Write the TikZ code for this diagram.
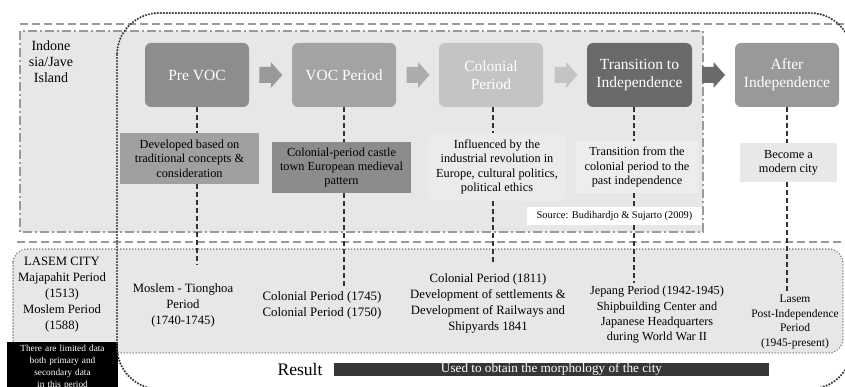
\documentclass[tikz,border=0pt]{standalone}
\usepackage{fontspec}
\setmainfont{Liberation Serif}
\definecolor{bgA}{HTML}{E7E7E7}
\definecolor{frame}{HTML}{9A9A9A}
\definecolor{dotc}{HTML}{7A7A7A}
\definecolor{bigdot}{HTML}{3A3A3A}
\definecolor{sA}{HTML}{8D8D8D}
\definecolor{sB}{HTML}{A3A3A3}
\definecolor{sC}{HTML}{C4C4C4}
\definecolor{sD}{HTML}{6A6A6A}
\definecolor{sE}{HTML}{999999}
\definecolor{dA}{HTML}{A0A0A0}
\definecolor{dB}{HTML}{8C8C8C}
\definecolor{dC}{HTML}{EBEBEB}
\definecolor{dD}{HTML}{EDEDED}
\definecolor{dE}{HTML}{E8E8E8}
\definecolor{barc}{HTML}{363636}
\newcommand{\blockarrowat}[2]{%
  \fill[#2, shift={(#1,75)}] (0,-8) -- (11.5,-8) -- (11.5,-13) -- (23,0) -- (11.5,13) -- (11.5,8) -- (0,8) -- cycle;}
\begin{document}
\begin{tikzpicture}[x=1pt,y=-1pt,
  stage/.style={rounded corners=6pt, minimum width=104pt, minimum height=64pt, text=white,
    align=center, font=\fontsize{15.5}{18}\selectfont, inner sep=0pt},
  desc/.style={align=center, font=\fontsize{12.3}{14.3}\selectfont, inner sep=0pt},
  low/.style={align=center, font=\fontsize{12.7}{15.8}\selectfont, inner sep=0pt},
  conn/.style={draw=black!80, line width=2.3pt, dash pattern=on 5pt off 3pt},
]
\useasboundingbox (0,0) rectangle (845,387);
\clip (0,0) rectangle (845,387);

% frames
\draw[draw=frame, fill=bgA, line width=1.8pt, dash pattern=on 9pt off 3pt on 2pt off 3pt] (20,31) rectangle (703,232);
\draw[frame, line width=1.8pt, dash pattern=on 8pt off 4pt] (20,24) -- (850,24);
\draw[frame, line width=1.8pt, dash pattern=on 8pt off 4pt] (17,242) -- (850,242);
\draw[draw=dotc, fill=bgA, line width=1.6pt, dash pattern=on 0pt off 3pt, line cap=round, rounded corners=14pt] (13,249) rectangle (843,353);

% left label
\node[align=center, font=\fontsize{14}{16}\selectfont, inner sep=0pt] (ind) at (51,62) {Indone\\sia/Jave\\Island};

% stages
\node[stage, fill=sA] (s1) at (197,75) {Pre VOC};
\node[stage, fill=sB] (s2) at (344,75) {VOC Period};
\node[stage, fill=sC] (s3) at (491,75) {Colonial\\Period};
\node[stage, fill=sD, minimum width=105pt] (s4) at (639.5,75) {Transition to\\Independence};
\node[stage, fill=sE] (s5) at (787,75) {After\\Independence};

% block arrows
\blockarrowat{259.3}{sE}
\blockarrowat{406.5}{sB!90!white}
\blockarrowat{554.5}{sC}
\blockarrowat{702}{sD}

% descriptions
\node[desc, fill=dA, minimum width=139pt, minimum height=51pt] (d1) at (189.5,158.5) {Developed based on\\traditional concepts \&\\consideration};
\node[desc, fill=dB, minimum width=139pt, minimum height=51pt] (d2) at (341.5,167.5) {Colonial-period castle\\town European medieval\\pattern};
\node[desc, fill=dC, rounded corners=8pt, minimum width=138pt, minimum height=68pt] (d3) at (497,167) {Influenced by the\\industrial revolution in\\Europe, cultural politics,\\political ethics};
\node[desc, fill=dD, minimum width=122pt, minimum height=52pt] (d4) at (637,167) {Transition from the\\colonial period to the\\past independence};
\node[desc, fill=dE, minimum width=97pt, minimum height=39pt] (d5) at (788.5,162.5) {Become a\\modern city};

% connector ends
\coordinate (e1) at (197,265);
\coordinate (e2) at (344,287);
\coordinate (e3) at (493,265);
\coordinate (e4) at (634,283);
\coordinate (e5) at (787,291);

\draw[conn] (s1.south) -- (s1.south |- d1.north);
\draw[conn] (s1.south |- d1.south) -- (e1);
\draw[conn] (s2.south) -- (s2.south |- d2.north);
\draw[conn] (s2.south |- d2.south) -- (e2);
\draw[conn] ([xshift=2pt]s3.south) -- ([xshift=2pt]s3.south |- d3.north);
\draw[conn] (e3 |- d3.south) -- (e3);
\draw[conn] (e4 |- s4.south) -- (e4 |- d4.north);
\draw[conn] (e4 |- d4.south) -- (e4);
\draw[conn] (s5.south) -- (s5.south |- d5.north);
\draw[conn] (s5.south |- d5.south) -- (e5);

\node[fill=white, minimum width=175pt, minimum height=18pt, inner sep=0pt, font=\fontsize{10.4}{12}\selectfont] (src) at (614.5,216) {Source: Budihardjo \& Sujarto (2009)};

% lower texts
\node[low, font=\fontsize{12.7}{16}\selectfont] (lasem) at (62,295) {LASEM CITY\\Majapahit Period\\(1513)\\Moslem Period\\(1588)};
\node[low, font=\fontsize{12.7}{16}\selectfont] (t1) at (183,305) {Moslem - Tionghoa\\Period\\(1740-1745)};
\node[low, font=\fontsize{12.9}{15.3}\selectfont] (t2) at (322,305.5) {Colonial Period (1745)\\Colonial Period (1750)};
\node[low] (t3) at (488,303.5) {Colonial Period (1811)\\Development of settlements \&\\Development of Railways and\\Shipyards 1841};
\node[low, font=\fontsize{12.3}{15.3}\selectfont] (t4) at (657,315) {Jepang Period (1942-1945)\\Shipbuilding Center and\\Japanese Headquarters\\during World War II};
\node[low, font=\fontsize{11.5}{14.7}\selectfont] (t5) at (795,322) {Lasem\\Post-Independence\\Period\\(1945-present)};

% limited data
\node[fill=black, text=white, anchor=north, text width=111pt, align=center, inner xsep=0pt, inner ysep=2pt,
  font=\fontsize{9.3}{12}\selectfont, minimum height=50pt] (lim) at (62.5,342) {There are limited data\\both primary and\\secondary data\\in this period};

% result
\node[font=\fontsize{17.6}{20}\selectfont, inner sep=0pt] (res) at (300,369) {Result};
\node[fill=barc, text=white, minimum width=435pt, minimum height=13pt, inner sep=0pt,
  font=\fontsize{13.2}{14}\selectfont] (bar) at (551.5,369.5) {Used to obtain the morphology of the city};

% big dotted outline
\draw[draw=bigdot, line width=2.4pt, dash pattern=on 0pt off 3pt, line cap=round, rounded corners=42pt] (117,13) rectangle (852,389);
\end{tikzpicture}
\end{document}
